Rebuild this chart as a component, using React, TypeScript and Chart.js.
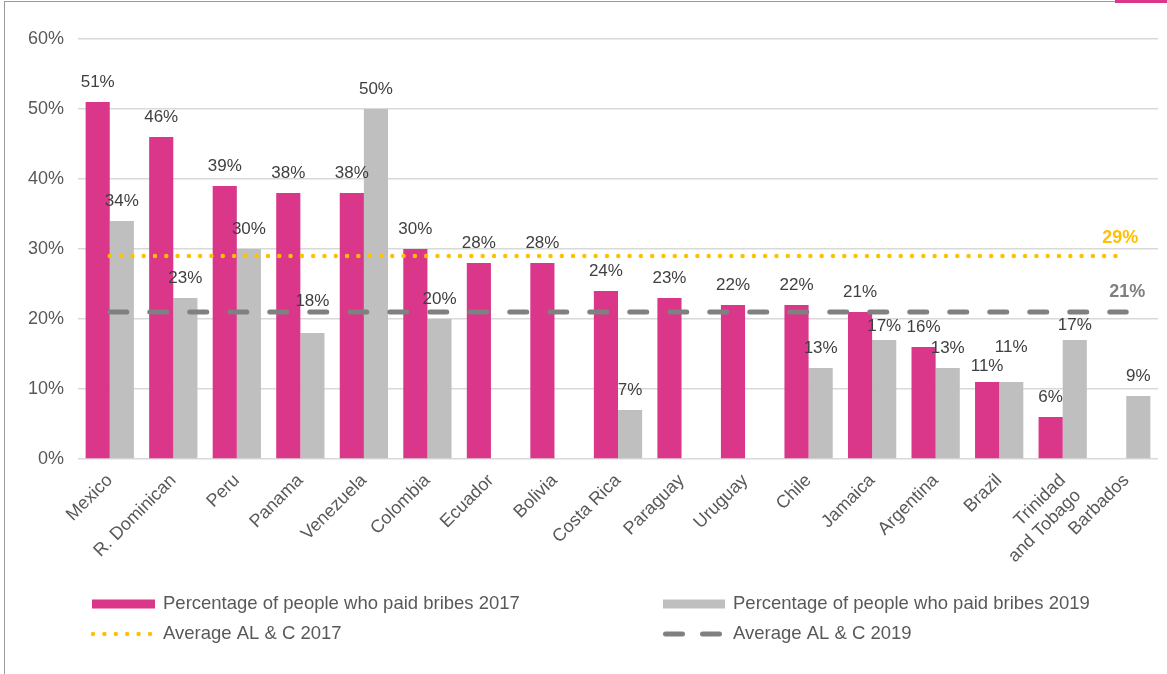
import React, { useEffect, useRef } from 'react';
import { Chart, registerables } from 'chart.js';

Chart.register(...registerables);

const categories: (string | string[])[] = [
  'Mexico', 'R. Dominican', 'Peru', 'Panama', 'Venezuela', 'Colombia', 'Ecuador', 'Bolivia',
  'Costa Rica', 'Paraguay', 'Uruguay', 'Chile', 'Jamaica', 'Argentina', 'Brazil',
  ['Trinidad', 'and Tobago'], 'Barbados',
];
const bribes2017: (number | null)[] = [51, 46, 39, 38, 38, 30, 28, 28, 24, 23, 22, 22, 21, 16, 11, 6, null];
const bribes2019: (number | null)[] = [34, 23, 30, 18, 50, 20, null, null, 7, null, null, 13, 17, 13, 11, 17, 9];
const average2017 = 29;
const average2019 = 21;
const yMin = 0;
const yMax = 60;
const yStep = 10;
const seriesNames = [
  'Percentage of people who paid bribes 2017',
  'Percentage of people who paid bribes 2019',
  'Average AL & C 2017',
  'Average AL & C 2019',
];

const PINK = '#DA378B';
const LIGHTGRAY = '#BFBFBF';
const YELLOW = '#FFC000';
const DARKGRAY = '#808080';
const TEXT = '#595959';
const LABEL = '#404040';
const FONT = '"Liberation Sans", Arial, Helvetica, sans-serif';

// extra upward shift (px) for some value labels, as in the original layout
const labelNudge: Record<string, number> = { '1-3': 12, '1-12': -6, '1-15': -5, '0-14': -4, '1-14': 15 };

const valueLabelsPlugin = {
  id: 'valueLabels',
  afterDatasetsDraw(chart: any) {
    const ctx = chart.ctx;
    ctx.save();
    ctx.font = `17px ${FONT}`;
    ctx.fillStyle = LABEL;
    ctx.textAlign = 'center';
    ctx.textBaseline = 'middle';
    [0, 1].forEach((di) => {
      const meta = chart.getDatasetMeta(di);
      const data = chart.data.datasets[di].data as (number | null)[];
      meta.data.forEach((el: any, i: number) => {
        const v = data[i];
        if (v === null || v === undefined) return;
        const nudge = labelNudge[`${di}-${i}`] || 0;
        ctx.fillText(`${v}%`, el.x, el.y - 20 - nudge);
      });
    });
    // average labels
    const avgs = [
      { di: 2, color: YELLOW, dx: -6, dy: -18 },
      { di: 3, color: DARKGRAY, dx: 1, dy: -20 },
    ];
    ctx.font = `bold 18px ${FONT}`;
    avgs.forEach((a) => {
      const meta = chart.getDatasetMeta(a.di);
      const last = meta.data[meta.data.length - 1];
      const v = (chart.data.datasets[a.di].data as number[])[meta.data.length - 1];
      ctx.fillStyle = a.color;
      ctx.fillText(`${v}%`, last.x + a.dx, last.y + a.dy);
    });
    ctx.restore();
  },
  afterDraw(chart: any) {
    const ctx = chart.ctx;
    ctx.save();
    ctx.font = `18.5px ${FONT}`;
    ctx.fillStyle = TEXT;
    ctx.textAlign = 'left';
    ctx.textBaseline = 'middle';
    const row1 = 604;
    const row2 = 634;
    const col1 = 92;
    const col2 = 663;
    const textGap = 71;
    // bars
    ctx.fillStyle = PINK;
    ctx.fillRect(col1, row1 - 4.5, 63, 9);
    ctx.fillStyle = LIGHTGRAY;
    ctx.fillRect(col2, row1 - 4.5, 62, 9);
    // yellow dots
    ctx.fillStyle = YELLOW;
    for (let i = 0; i < 6; i++) {
      ctx.beginPath();
      ctx.arc(col1 + 1 + i * 11.4, row2, 2.2, 0, Math.PI * 2);
      ctx.fill();
    }
    // gray dashes
    ctx.strokeStyle = DARKGRAY;
    ctx.lineWidth = 5;
    ctx.lineCap = 'round';
    ctx.beginPath();
    ctx.moveTo(col2 + 2.5, row2);
    ctx.lineTo(col2 + 19.5, row2);
    ctx.moveTo(col2 + 39.5, row2);
    ctx.lineTo(col2 + 56.5, row2);
    ctx.stroke();
    ctx.fillStyle = TEXT;
    ctx.fillText(seriesNames[0], col1 + textGap, row1);
    ctx.fillText(seriesNames[1], col2 + textGap - 1, row1);
    ctx.fillText(seriesNames[2], col1 + textGap, row2);
    ctx.fillText(seriesNames[3], col2 + textGap - 1, row2);
    ctx.restore();
  },
};

export default function App() {
  const ref = useRef<HTMLCanvasElement | null>(null);

  useEffect(() => {
    if (!ref.current) return;
    const chart = new Chart(ref.current, {
      type: 'bar',
      data: {
        labels: categories as any,
        datasets: [
          {
            type: 'bar',
            label: seriesNames[0],
            data: bribes2017,
            backgroundColor: PINK,
            categoryPercentage: 0.76,
            barPercentage: 1,
            order: 2,
          },
          {
            type: 'bar',
            label: seriesNames[1],
            data: bribes2019,
            backgroundColor: LIGHTGRAY,
            categoryPercentage: 0.76,
            barPercentage: 1,
            order: 2,
          },
          {
            type: 'line',
            label: seriesNames[2],
            data: categories.map(() => average2017),
            borderColor: YELLOW,
            borderWidth: 4.5,
            borderDash: [0, 11.3],
            borderCapStyle: 'round',
            pointRadius: 0,
            fill: false,
            order: 0,
          } as any,
          {
            type: 'line',
            label: seriesNames[3],
            data: categories.map(() => average2019),
            borderColor: DARKGRAY,
            borderWidth: 5,
            borderDash: [17, 23],
            borderCapStyle: 'round',
            pointRadius: 0,
            fill: false,
            order: 1,
          } as any,
        ],
      },
      options: {
        responsive: false,
        animation: false,
        layout: { padding: { top: 39, right: 9, left: 0, bottom: 0 } },
        plugins: {
          legend: { display: false },
          tooltip: { enabled: false },
          title: { display: false },
        },
        scales: {
          x: {
            grid: { display: false, drawTicks: false },
            border: { display: false },
            ticks: {
              color: TEXT,
              font: { family: FONT, size: 18 },
              minRotation: 45,
              maxRotation: 45,
              autoSkip: false,
              padding: 11,
            },
            afterFit: (scale: any) => {
              scale.height = 215;
            },
          },
          y: {
            min: yMin,
            max: yMax,
            grid: { color: '#D9D9D9', lineWidth: 1.5, drawTicks: false },
            border: { display: false },
            ticks: {
              stepSize: yStep,
              color: TEXT,
              font: { family: FONT, size: 18 },
              padding: 14,
              callback: (v: any) => `${v}%`,
            },
            afterFit: (scale: any) => {
              scale.width = 78;
            },
          },
        },
      },
      plugins: [valueLabelsPlugin],
    });
    return () => chart.destroy();
  }, []);

  return (
    <div style={{ position: 'fixed', left: 0, top: 0, width: 1167, height: 674, background: '#fff' }}>
      <div
        style={{
          position: 'absolute',
          left: 4,
          top: 1,
          width: 1111,
          height: 673,
          borderLeft: '1.5px solid #9b9b9b',
          borderTop: '1.5px solid #9b9b9b',
        }}
      />
      <div style={{ position: 'absolute', left: 1115, top: 0, width: 52, height: 2.5, background: PINK }} />
      <canvas ref={ref} width={1167} height={674} style={{ position: 'absolute', left: 0, top: 0 }} />
    </div>
  );
}
